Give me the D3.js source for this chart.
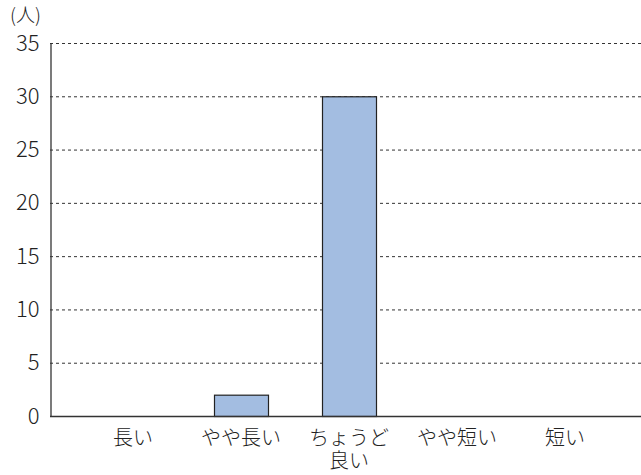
<!DOCTYPE html>
<html>
<head>
<meta charset="utf-8">
<script src="https://cdn.jsdelivr.net/npm/d3@7/dist/d3.min.js"></script>
<style>
  html, body { margin: 0; padding: 0; background: #fff; }
  svg text { font-family: "Noto Sans CJK JP", "Noto Sans", sans-serif; font-weight: 300; fill: #222; }
</style>
</head>
<body>
<svg id="chart" width="641" height="475"></svg>
<script>
// Answers per category (people)
const categories = [["長い"], ["やや長い"], ["ちょうど", "良い"], ["やや短い"], ["短い"]];
const counts = [0, 2, 30, 0, 0];
const yTicks = [0, 5, 10, 15, 20, 25, 30, 35];
const unitLabel = "(人)";

const svg = d3.select("#chart");
const plot = { left: 50, right: 641, top: 43, bottom: 416 };

const x = d3.scaleBand()
  .domain(d3.range(categories.length))
  .range([79, 619])
  .paddingInner(0.5)
  .paddingOuter(0.25);

const y = d3.scaleLinear().domain([0, 35]).range([plot.bottom, plot.top]);

// dashed gridlines
svg.append("g")
  .selectAll("line")
  .data(yTicks.filter(d => d > 0))
  .join("line")
  .attr("x1", plot.left).attr("x2", plot.right)
  .attr("y1", d => y(d) + 0.5).attr("y2", d => y(d) + 0.5)
  .attr("stroke", "#333")
  .attr("stroke-width", 1)
  .attr("stroke-dasharray", "3,3");

// bars
svg.append("g")
  .selectAll("rect")
  .data(counts)
  .join("rect")
  .attr("x", (d, i) => x(i) + 0.5)
  .attr("y", d => y(d) + 0.5)
  .attr("width", x.bandwidth())
  .attr("height", d => y(0) - y(d))
  .attr("fill", "#a3bde1")
  .attr("stroke", "#222")
  .attr("stroke-width", 1.2);

// y axis
const yAxis = svg.append("g")
  .attr("transform", `translate(${plot.left + 0.5},0)`)
  .call(d3.axisLeft(y).tickValues(yTicks).tickSize(0).tickPadding(11));
yAxis.select(".domain").attr("stroke", "#333").attr("stroke-width", 1.3);
yAxis.selectAll("text").style("font-size", "22px").attr("fill", "#222");

// x axis baseline
svg.append("line")
  .attr("x1", plot.left).attr("x2", plot.right)
  .attr("y1", plot.bottom + 0.5).attr("y2", plot.bottom + 0.5)
  .attr("stroke", "#333").attr("stroke-width", 1.5);

// category labels
const labels = svg.append("g")
  .selectAll("text")
  .data(categories)
  .join("text")
  .attr("x", (d, i) => x(i) + x.bandwidth() / 2)
  .attr("y", 445)
  .attr("text-anchor", "middle")
  .style("font-size", "20px");
labels.selectAll("tspan")
  .data(d => d)
  .join("tspan")
  .attr("x", function() { return d3.select(this.parentNode).attr("x"); })
  .attr("dy", (d, i) => i === 0 ? 0 : 23)
  .text(d => d);

// unit label
svg.append("text")
  .attr("x", 10).attr("y", 22)
  .style("font-size", "19px")
  .text(unitLabel);
</script>
</body>
</html>
